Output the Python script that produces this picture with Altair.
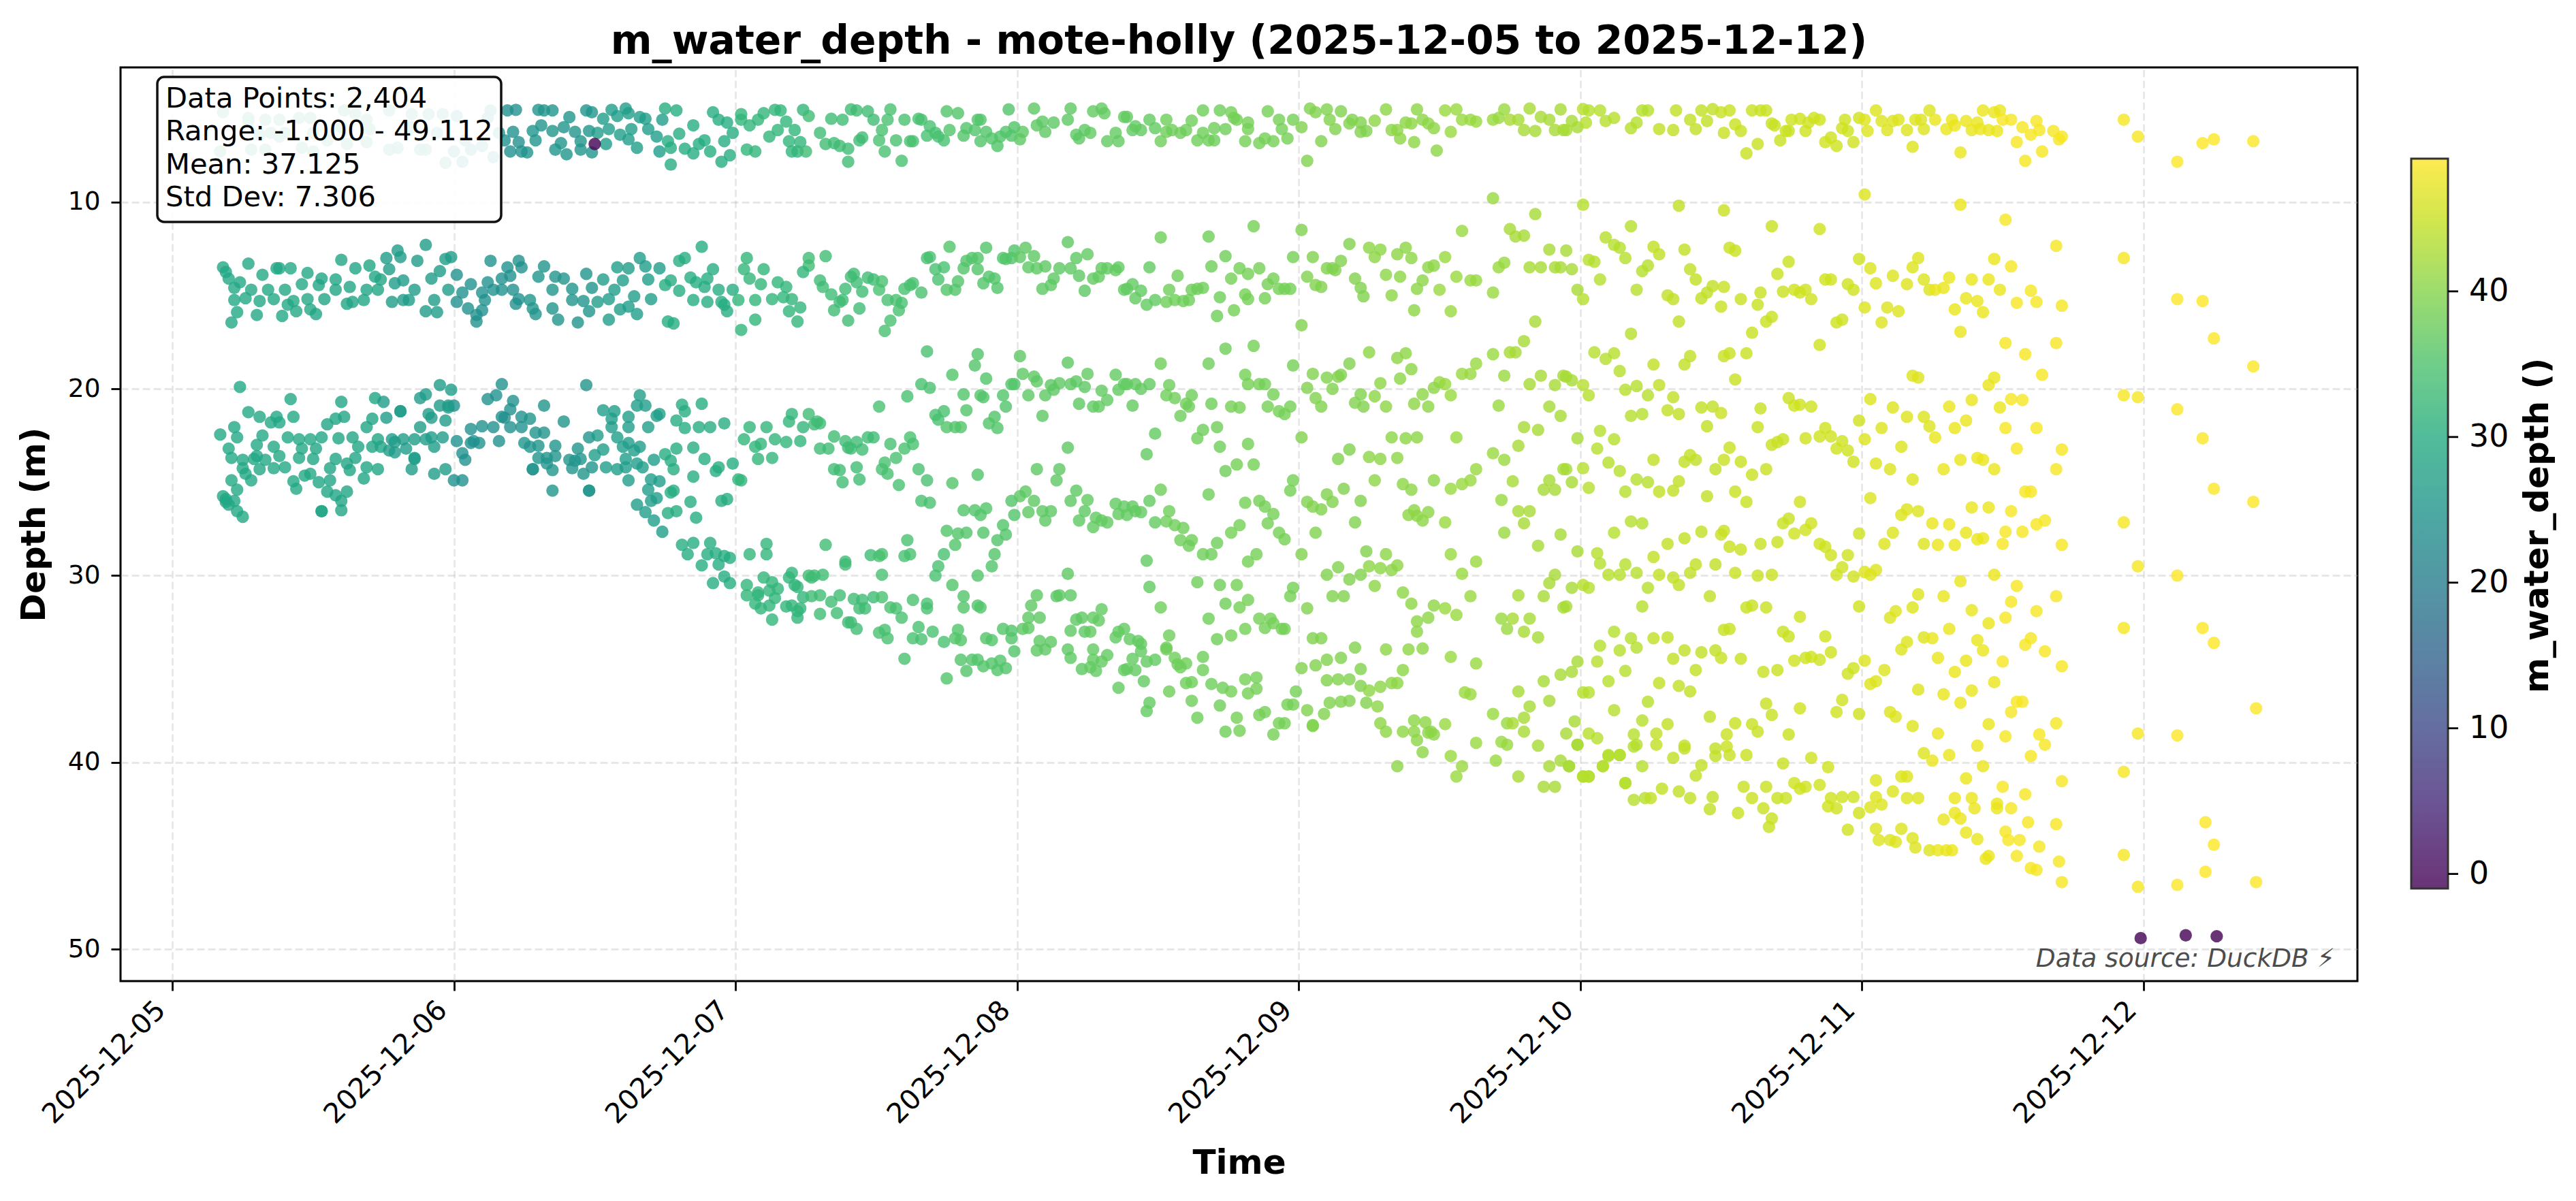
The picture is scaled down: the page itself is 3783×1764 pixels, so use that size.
import altair as alt
import numpy as np
import pandas as pd

TOP_BAND = [
(.18,5.2),(.27,5.5),(.33,5.6),(.38,5.6),(.45,5.5),(.49,5.5),(.61,5.1),(.65,5.3),(.69,5.6),(.77,5.1),(.85,5.3),(.91,5.3),(.96,5.3),(1.01,5.4),(1.13,5.1),(1.12,5.5),
(.17,7.3),(.28,7.2),(.33,7.2),(.35,6.3),(.40,6.3),(.46,7.1),(.50,7.3),(.55,6.7),(.62,6.9),(.69,6.8),(.77,7.2),(.80,7.1),(.88,7.2),(.90,7.2),(.94,6.3),(1.0,7.3),(1.06,7.2),(1.10,7.0),(1.14,7.6),(.97,7.9),(1.03,7.85),(1.04,6.7),(1.16,6.3),(.27,5.7),(.31,6.4),(.38,6.5),(.50,6.3),(.60,6.0),(.70,6.1),(.85,6.0),
(1.19,5.1),(1.22,5.07),(1.30,5.07),(1.32,5.1),(1.35,5.1),(1.41,5.46),(1.47,5.1),(1.49,5.2),(1.53,5.55),(1.56,5.07),(1.58,5.4),(1.61,5.0),(1.62,5.25),(1.66,5.46),(1.68,5.55),(1.74,5.6),(1.75,5.0),(1.79,5.1),(1.92,5.2),(1.94,5.6),(1.97,5.75),(2.02,5.6),(2.02,5.3),(2.10,5.25),(2.14,5.07),(2.16,5.1),(2.08,5.6),(2.18,5.7),(2.24,5.07),(2.26,5.4),
(1.18,6.7),(1.21,6.25),(1.20,7.3),(1.24,7.3),(1.26,7.35),(1.23,6.8),(1.29,6.7),(1.28,6.2),(1.31,5.9),(1.35,6.2),(1.39,6.0),(1.43,6.25),(1.48,6.2),(1.51,6.3),(1.36,7.2),(1.38,6.85),(1.40,7.45),(1.45,6.75),(1.45,7.2),(1.49,7.35),(1.54,6.9),(1.55,6.1),(1.59,6.4),(1.63,6.1),(1.62,6.65),(1.65,7.1),(1.69,6.1),(1.72,6.5),(1.73,7.3),(1.76,6.75),(1.77,7.1),(1.77,8.0),(1.80,6.35),(1.82,7.15),(1.85,7.4),(1.87,6.9),(1.89,6.7),(1.91,7.3),(1.85,5.9),(1.96,6.75),(1.95,7.85),(1.98,7.5),(1.99,6.3),(2.04,7.2),(2.07,7.3),(2.05,5.9),(2.12,6.5),(2.15,6.15),(2.19,6.75),(2.21,6.15),(2.20,7.3),(2.22,7.3),(2.23,6.8),(2.25,7.3),
(2.34,5.55),(2.38,5.6),(2.41,5.05),(2.43,5.1),(2.47,5.15),(2.49,5.6),(2.54,5.6),(2.55,5.05),(2.60,5.6),(2.65,5.55),(2.66,5.6),(2.75,5.15),(2.79,5.25),(2.86,5.6),(2.87,5.6),(2.97,5.05),(3.06,5.0),(3.09,5.7),(3.07,5.9),(3.13,5.75),(3.18,5.6),(3.19,5.0),(3.27,5.15),(3.30,5.0),(3.31,5.25),(3.38,5.45),(3.39,5.45),(3.47,5.6),(3.53,5.6),(3.62,5.65),(3.66,5.1),(3.72,5.1),(3.76,5.2),(3.77,5.5),(3.78,5.6),(3.89,5.15),(3.93,5.6),(3.98,5.6),(4.04,5.0),(4.06,5.2),(4.10,5.05),(4.15,5.15),(4.11,5.6),(4.19,5.6),(4.22,5.75),(4.27,5.65),(4.31,5.05),(4.38,5.75),(4.40,5.8),(4.42,5.05),(4.44,5.6),(4.46,5.8),(4.52,5.1),(4.56,5.05),(4.58,5.6),(4.61,5.6),(4.63,5.7),(4.69,5.6),(4.71,5.5),(4.73,5.05),(4.75,5.6),(4.78,5.6),(4.82,5.0),(4.86,5.45),(4.89,5.6),(4.93,5.05),
(2.30,6.3),(2.32,6.9),(2.35,6.85),(2.37,7.0),(2.40,7.15),(2.40,7.85),(2.44,6.7),(2.45,6.55),(2.51,6.7),(2.52,6.15),(2.53,7.3),(2.57,6.7),(2.59,7.8),(2.62,6.75),(2.63,6.75),(2.68,6.45),(2.69,5.95),(2.71,6.3),(2.72,6.5),(2.74,6.7),(2.76,6.15),(2.81,6.45),(2.82,6.05),(2.85,6.15),(2.87,6.75),(2.89,6.25),(2.91,6.6),(2.93,7.0),(2.94,6.5),(2.96,6.25),(2.98,6.45),(2.99,6.0),(3.01,6.65),(3.02,6.25),(3.10,6.25),(3.21,6.4),(3.22,6.6),(3.24,6.15),(3.26,6.3),(3.32,6.75),(3.35,6.3),(3.36,6.75),(3.41,6.15),(3.42,5.95),(3.44,6.15),(3.49,6.05),(3.51,6.75),(3.53,6.25),(3.55,6.15),(3.58,6.3),(3.60,6.15),(3.64,6.7),(3.66,6.3),(3.68,6.7),(3.70,6.7),(3.70,6.05),(3.74,6.1),(3.81,6.75),(3.82,5.75),(3.82,6.1),(3.86,6.85),(3.88,6.6),(3.91,6.75),(3.94,6.1),(3.96,6.6),(4.01,6.0),(4.03,7.8),(4.08,6.75),(4.13,6.1),(4.18,5.8),(4.22,6.25),(4.24,6.2),(4.33,6.15),(4.35,6.15),(4.36,6.6),(4.41,6.8),(4.48,6.05),(4.49,7.25),(4.54,6.25),(4.80,6.15),(4.84,6.2),(4.91,6.15),(4.94,6.15),
(4.97,5.67),(4.95,6.15),(4.99,6.0),(5.01,5.03),(5.03,5.1),(5.02,5.75),(5.07,5.1),(5.09,5.67),(5.12,5.5),(5.18,6.05),(5.20,5.75),(5.22,5.1),(5.24,5.1),(5.28,6.1),(5.33,6.15),(5.34,5.1),(5.39,5.6),(5.41,6.1),(5.43,5.1),(5.45,5.67),(5.47,5.03),(5.50,5.2),(5.53,5.1),(5.51,6.3),(5.55,5.85),(5.57,6.2),(5.59,7.4),(5.63,6.9),(5.61,5.1),(5.64,5.1),(5.66,5.1),(5.68,5.8),(5.69,5.9),(5.71,6.7),(5.73,6.2),(5.74,6.2),(5.75,5.6),(5.78,5.55),(5.80,6.2),(5.81,5.75),(5.83,5.5),(5.85,5.6),(5.87,6.8),(5.89,6.55),(5.91,7.0),(5.93,6.05),(5.94,5.6),(5.95,6.2),(5.97,6.8),(5.99,5.5),(6.01,5.6),(6.02,6.2),(6.05,5.1),(6.07,5.67),(6.09,6.15),(6.11,5.67),(6.13,5.6),(6.16,6.15),(6.18,7.05),(6.19,5.6),(6.21,5.6),(6.22,6.1),(6.24,5.1),(6.26,5.6),(6.30,6.1),(6.32,5.6),(6.33,5.9),(6.35,7.35),(6.37,5.67),(6.39,6.15),(6.41,5.75),(6.42,6.1),(6.43,5.1),(6.45,6.15),(6.47,5.2),(6.48,6.2),(6.49,5.1),(6.50,5.6),(6.53,5.6),(6.55,6.8),(6.57,6.0),(6.58,7.8),(6.60,6.4),(6.62,5.67),(6.63,6.15),(6.64,7.3),(6.68,6.2),(6.70,6.65),(6.71,6.5),(6.93,5.6),(6.98,6.5),(7.12,7.85),(7.21,6.85),(7.25,6.65),(7.39,6.75),
]
MID_BAND = [
(.18,13.5),(.19,13.75),(.20,14.1),(.22,14.6),(.24,14.3),(.27,13.3),(.32,13.9),(.37,13.55),(.38,13.55),(.42,13.55),(.48,13.8),(.60,13.1),(.65,13.55),(.70,13.4),(.72,14.0),(.76,13.0),(.77,13.6),(.80,12.6),(.81,12.95),(.87,13.15),(.90,12.3),(.97,13.05),(.99,12.95),(1.01,13.9),(1.13,13.15),(1.23,13.15),(1.24,13.5),(1.19,13.5),(1.32,13.45),(1.47,13.85),(1.58,13.5),(1.62,13.55),(1.66,13.0),(1.68,13.45),(1.73,13.55),(1.80,13.15),(1.82,13.0),(1.88,12.4),(1.92,13.6),(2.04,13.0),(2.03,13.6),(2.10,13.6),(2.26,13.0),(2.26,13.4),(2.24,13.75),
(.26,15.15),(.22,15.25),(.23,15.9),(.21,16.45),(.30,16.05),(.28,14.7),(.31,15.3),(.34,14.7),(.36,15.2),(.40,14.7),(.41,15.5),(.39,16.1),(.43,15.3),(.44,15.85),(.46,14.4),(.48,15.2),(.49,15.75),(.51,16.0),(.52,14.45),(.54,15.2),(.53,14.1),(.58,14.15),(.58,14.7),(.63,14.55),(.62,15.45),(.64,15.35),(.68,15.25),(.69,14.7),(.73,14.7),(.74,14.15),(.78,15.35),(.79,14.35),(.82,15.25),(.82,14.2),(.84,15.25),(.86,14.7),(.90,15.85),(.92,14.1),(.93,15.25),(.94,15.9),(.95,13.7),(.98,14.7),(1.01,15.35),(1.03,14.85),(1.05,15.7),(1.06,14.4),(1.08,16.4),(1.10,15.8),(1.08,16.05),(1.11,15.25),(1.12,14.3),(1.10,14.85),(1.14,14.7),(1.17,14.1),(1.17,14.7),(1.21,14.7),(1.20,13.95),(1.22,15.45),(1.23,15.2),(1.27,15.25),(1.28,15.7),(1.29,16.0),(1.30,14.0),(1.35,15.7),(1.35,14.7),(1.37,16.3),(1.36,14.0),(1.39,14.1),(1.42,15.25),(1.42,14.65),(1.44,16.45),(1.46,15.3),(1.48,15.85),(1.49,14.6),(1.51,15.35),(1.53,14.15),(1.55,16.3),(1.55,15.2),(1.57,14.7),(1.59,15.75),(1.60,14.2),(1.62,15.6),(1.64,15.05),(1.65,16.0),(1.69,14.15),(1.70,15.2),(1.75,14.45),(1.77,14.2),(1.76,16.4),(1.78,16.5),(1.80,14.75),(1.84,14.05),(1.85,15.25),(1.86,14.3),(1.89,14.55),(1.90,14.1),(1.90,15.35),(1.94,14.7),(1.95,15.35),(1.96,15.5),(1.97,15.85),(1.99,14.7),(2.01,15.25),(2.02,16.85),(2.07,16.3),(2.05,14.1),(2.07,15.25),(2.09,14.4),(2.13,15.2),(2.15,14.3),(2.17,15.1),(2.18,14.55),(2.20,15.2),(2.23,15.65),(2.19,15.85),(2.22,16.4),
(2.32,12.9),(2.30,14.2),(2.31,14.55),(2.34,14.95),(2.37,15.35),(2.38,15.25),(2.35,15.8),(2.40,16.35),(2.39,14.65),(2.41,14.0),(2.42,13.85),(2.43,14.3),(2.45,14.8),(2.47,14.05),(2.49,14.15),(2.52,14.25),(2.51,14.7),(2.44,15.7),(2.54,15.25),(2.57,15.25),(2.59,15.4),(2.58,15.8),(2.55,16.35),(2.53,16.9),(2.60,14.65),(2.62,14.45),(2.63,14.35),(2.66,14.85),(2.68,13.0),(2.69,12.95),(2.71,13.6),(2.74,13.5),(2.72,14.15),(2.75,14.7),(2.78,14.7),(2.79,14.25),(2.76,12.4),(2.81,13.55),(2.82,13.15),(2.84,13.0),(2.86,13.0),(2.86,13.6),(2.88,14.35),(2.89,12.45),(2.90,14.0),(2.92,14.1),(2.93,14.6),(2.95,13.0),(2.96,13.05),(2.98,13.0),(2.99,12.6),(3.01,12.95),(3.03,12.45),(3.06,12.9),(3.04,13.5),(3.07,13.55),(3.10,13.45),(3.09,14.65),(3.12,14.45),(3.13,14.1),(3.15,13.55),(3.18,12.15),(3.19,13.55),(3.21,13.0),(3.22,13.95),(3.24,14.75),(3.25,12.8),(3.27,14.1),(3.29,14.0),(3.30,13.55),(3.32,13.55),(3.35,13.65),(3.36,13.5),(3.38,14.7),(3.39,14.65),(3.41,14.4),(3.42,15.15),(3.44,14.75),(3.46,15.5),(3.47,13.5),(3.49,15.25),(3.51,11.9),(3.53,15.35),(3.54,14.7),(3.56,15.25),(3.57,13.95),(3.59,15.3),(3.61,15.25),(3.62,14.7),(3.64,14.65),(3.66,14.6),(3.68,11.85),(3.69,13.45),(3.72,15.1),(3.71,16.1),(3.74,12.9),(3.76,14.1),(3.77,15.8),(3.79,13.55),(3.81,14.95),(3.82,13.85),(3.82,15.2),(3.84,11.3),(3.86,13.55),(3.88,15.15),(3.89,14.4),(3.91,14.1),(3.93,14.65),(3.95,14.65),(3.97,14.65),(3.98,12.95),(4.01,11.5),(4.01,16.6),(4.03,14.0),(4.05,12.95),(4.06,14.45),(4.08,14.55),(4.10,13.55),(4.12,13.55),(4.13,13.65),(4.15,13.15),(4.18,12.25),(4.20,14.1),(4.22,14.6),(4.23,15.05),(4.25,12.45),(4.27,12.95),(4.29,12.55),(4.31,13.9),(4.33,15.0),(4.35,12.8),(4.36,14.0),(4.38,12.45),(4.40,13.0),(4.42,14.65),(4.41,15.8),(4.44,14.2),(4.46,13.5),(4.48,13.4),(4.50,14.7),(4.52,12.95),(4.54,15.85),(4.56,14.0),(4.58,11.55),(4.61,14.2),(4.63,14.2),(4.69,9.8),(4.69,14.85),(4.71,13.5),(4.73,13.25),(4.75,11.45),(4.77,11.85),(4.80,11.8),(4.82,13.5),(4.84,10.65),(4.86,13.5),(4.89,12.55),(4.91,13.5),(4.93,13.5),(4.84,16.4),
(5.01,10.15),(5.35,10.2),(5.51,10.45),(6.01,9.6),(6.35,10.15),(6.51,10.95),(5.18,11.3),(5.09,11.9),(5.12,12.3),(5.14,12.45),(5.26,12.4),(5.28,12.8),(5.37,12.55),(5.53,12.45),(5.55,12.6),(5.68,11.3),(5.85,11.45),(4.95,12.6),(5.03,13.1),(5.05,13.2),(5.16,13.0),(5.24,13.4),(5.22,13.7),(4.97,13.6),(5.07,14.15),(5.39,13.6),(5.41,14.15),(5.70,13.85),(5.74,13.2),(5.99,13.05),(6.03,13.55),(6.18,13.5),(6.20,13.0),(6.47,13.05),(6.53,13.45),(6.69,12.35),(6.93,13.0),
(4.99,14.7),(5.01,15.2),(5.20,14.7),(5.31,15.0),(5.33,15.2),(5.43,15.15),(5.45,14.85),(5.47,14.5),(5.51,14.55),(5.57,15.2),(5.64,14.85),(5.72,14.8),(5.76,14.7),(5.78,14.85),(5.80,14.7),(5.82,15.2),(5.87,14.15),(5.89,14.15),(5.95,14.4),(5.97,14.7),(6.05,14.35),(6.11,13.95),(6.16,14.4),(6.22,14.15),(6.24,14.7),(6.26,14.7),(6.29,14.6),(6.31,14.05),(6.39,14.15),(6.45,14.15),(6.49,14.7),(6.60,14.75),(6.55,15.4),(6.62,15.35),(6.71,15.55),
(5.50,15.6),(5.35,16.4),(5.63,15.5),(5.66,16.4),(5.68,16.15),(5.61,17.0),(5.18,17.05),(5.91,16.45),(5.93,16.3),(6.01,15.65),(6.07,16.45),(6.09,15.65),(6.13,15.85),(6.33,15.75),(6.37,15.15),(6.41,15.3),(6.43,15.9),(6.35,16.95),(6.51,17.55),(6.69,17.55),(6.58,18.15),(5.85,17.65),
(5.05,18.05),(5.09,18.4),(5.12,18.1),(5.14,19.05),(5.26,18.7),(5.37,18.7),(5.39,18.25),(5.51,18.25),(5.53,18.1),(5.59,18.1),(5.55,19.5),(6.18,19.3),(6.20,19.4),(6.47,19.4),(6.45,19.8),(6.64,19.25),(7.39,18.8),(7.25,17.3),(7.12,15.2),(7.21,15.3),(4.95,19.35),(4.97,19.55),(5.01,19.8),(5.03,20.35),(5.16,20.05),(5.20,19.85),(5.28,19.8),(5.24,20.35),(5.33,20.45),
]
LOWER_LEFT = [
(.24,19.9),(.42,20.55),(.60,20.7),(.72,20.5),(.75,20.7),(.88,20.5),(.90,20.3),(.95,19.8),(.99,20.05),(1.12,20.55),(1.15,20.35),(1.17,19.75),(1.21,20.65),(1.32,20.9),(1.47,19.8),(1.66,20.35),(1.65,20.9),(1.68,20.9),(1.88,20.8),(1.81,20.85),(1.53,21.15),(1.57,21.2),
(.27,21.25),(.31,21.5),(.37,21.5),(.43,21.5),(.61,21.5),(.81,21.2),(.71,21.6),(.76,21.55),(.55,21.9),(.58,21.6),(.91,21.35),(.95,20.9),(.98,21.0),(1.0,20.9),(.97,21.7),(.92,21.55),(1.20,21.1),(1.18,21.55),(1.17,21.5),(1.24,21.5),(1.27,21.6),(1.39,21.75),(1.56,21.6),(1.62,21.5),(1.72,21.45),(1.73,21.35),(1.79,21.7),(1.82,21.2),
(.17,22.45),(.22,22.05),(.32,22.5),(.35,21.8),(.38,21.8),(.23,22.6),(.41,22.6),(.45,22.7),(.49,22.7),(.53,22.6),(.59,22.65),(.64,22.6),(.69,22.05),(.73,22.7),(.78,22.7),(.82,22.7),(.86,22.7),(.88,22.05),(.92,22.6),(.96,22.6),(1.01,22.8),(1.06,22.15),(1.07,22.8),(1.10,22.0),(1.14,22.05),(1.16,22.8),(1.20,22.05),(1.24,22.05),(1.29,22.35),(1.32,22.35),(1.48,22.6),(1.51,22.5),(1.56,22.05),(1.62,22.05),(1.69,22.05),(1.82,22.1),(1.87,22.05),(1.91,22.05),(1.96,21.85),(2.05,22.05),(2.11,22.05),(2.20,21.35),(2.26,21.35),(2.19,21.75),(2.24,22.05),(2.28,21.9),(2.29,21.75),
(.20,23.2),(.30,23.0),(.36,23.1),(.46,23.2),(.51,23.2),(.66,23.1),(.71,23.1),(.74,23.1),(.79,22.85),(.93,23.1),(1.30,23.05),(1.36,23.05),(1.44,23.2),(1.53,23.25),(1.60,23.1),(1.66,23.1),(1.79,23.2),(1.85,23.15),(2.03,22.7),(2.07,23.1),(2.09,22.95),(2.14,22.7),(2.18,22.85),(2.23,22.8),
(.21,23.7),(.25,23.8),(.29,23.75),(.38,23.6),(.45,23.7),(.50,23.75),(.58,23.75),(.65,23.7),(.77,23.3),(.86,23.75),(1.03,23.45),(1.04,23.8),(1.33,23.7),(1.41,23.8),(1.45,23.75),(1.50,23.55),(1.61,23.75),(1.65,24.0),(1.71,23.8),(1.75,23.5),(1.89,23.75),(2.08,23.75),(2.13,23.7),
(.25,24.25),(.26,24.55),(.31,24.3),(.36,24.25),(.40,24.2),(.49,24.55),(.56,24.25),(.63,24.35),(.69,24.2),(.73,24.3),(.85,24.3),(.93,24.55),(.97,24.3),(1.28,24.3),(1.35,24.35),(1.42,24.25),(1.46,24.55),(1.49,24.2),(1.54,24.2),(1.58,24.3),(1.61,24.2),(1.67,24.2),(1.77,23.85),(1.78,24.3),(1.94,24.2),(1.93,24.4),(1.99,24.0),
(.21,24.9),(.23,25.4),(.28,24.9),(.43,24.95),(.47,24.65),(.52,25.0),(.56,24.9),(.68,24.8),(1.0,24.9),(1.03,24.9),(1.62,24.9),(1.70,24.85),(1.73,24.95),(1.85,24.7),(2.01,24.85),(2.02,24.9),
(.44,25.35),(.55,25.5),(.62,25.5),(1.35,25.45),(1.48,25.45),(1.69,25.4),(1.77,25.55),(1.78,25.45),
(.18,25.75),(.19,26.05),(.22,26.0),(.20,26.2),(.58,25.7),(.60,26.0),(1.65,26.2),(1.70,26.0),(1.72,25.85),(1.84,26.05),(1.95,26.0),(1.97,25.9),
(.23,26.55),(.25,26.85),(.53,26.55),(.60,26.5),(1.68,26.6),(1.71,27.05),(1.76,26.65),(1.79,26.55),(1.86,26.9),(1.74,27.65),
(2.11,28.3),(1.81,28.35),(1.85,28.25),(1.91,28.25),(1.83,28.85),(1.90,28.85),(1.93,28.8),(1.96,28.95),(2.05,28.85),(2.11,28.85),(1.88,29.45),(1.98,29.05),
(1.94,29.4),(1.96,30.05),(1.92,30.4),(1.98,30.4),(2.04,30.5),(2.04,31.05),(2.08,30.9),(2.08,31.05),(2.07,31.5),(2.09,31.75),(2.12,31.6),(2.13,32.35),(2.10,30.1),(2.13,30.35),(2.15,30.7),(2.14,31.2),(2.18,31.65),(2.19,30.1),(2.20,29.85),(2.21,30.5),(2.26,30.0),(2.28,30.0),(2.27,30.1),(2.24,31.15),(2.27,31.1),(2.23,31.75),(2.22,31.9),(2.22,32.25),
]
OVERLAPS = [(.53,26.55),(.86,23.7),(.81,21.2),(.98,20.9),(1.28,24.3),(1.48,25.45),(1.43,23.85),(1.30,23.7),(1.33,24.0),(1.36,23.6),(1.25,22.9),(1.27,23.1),(.30,23.6),(.33,23.8),(.19,25.9),(.62,24.0),(.79,23.4),(.83,23.2),(.90,22.7),(1.06,22.9),(1.09,22.9),(1.58,22.6),(1.62,22.9),(1.64,23.3),(2.22,30.6),(2.20,31.6),(2.12,30.8)]
MIDDLE_LOWER = [
(2.68,18.0),(2.86,18.15),(3.01,18.25),(3.18,18.6),(3.51,18.65),(3.68,18.65),(3.74,17.85),(3.84,17.7),(3.98,18.75),(4.25,18.05),(4.35,18.35),(4.38,18.1),(4.63,18.65),(4.69,18.15),(4.75,18.05),(4.77,18.05),(4.80,17.45),
(2.85,18.75),(2.77,19.25),(2.89,19.45),(3.02,19.2),(3.06,19.35),(3.07,19.6),(3.25,19.2),(3.35,19.25),(3.81,19.25),(4.05,19.2),(4.18,18.65),(4.15,19.25),(4.10,19.4),(4.14,19.35),(4.40,18.95),(4.36,19.45),(4.58,19.2),(4.61,19.2),(4.73,19.3),(4.86,19.3),(4.94,19.3),
(2.66,19.75),(2.69,19.95),(2.98,19.75),(2.99,19.75),(3.12,19.8),(3.15,19.7),(3.19,19.75),(3.21,19.6),(3.24,19.9),(3.38,19.75),(3.39,19.75),(3.42,19.75),(3.44,20.0),(3.47,19.75),(3.54,19.8),(3.82,19.75),(3.86,19.75),(3.88,19.75),(4.03,19.95),(4.12,20.0),(4.29,19.7),(4.50,19.65),(4.52,19.75),(4.48,19.95),(4.82,19.75),(4.91,19.8),
(2.61,20.4),(2.81,20.3),(2.87,20.35),(2.88,20.45),(2.95,20.35),(3.04,20.35),(3.10,20.35),(3.13,20.05),(3.30,20.1),(3.36,20.05),(3.53,20.35),(3.56,20.5),(3.62,20.35),(3.91,20.3),(4.22,20.3),(4.27,20.4),(4.44,20.3),(4.54,20.35),(4.06,20.5),
(2.51,20.95),(2.96,20.95),(3.22,20.8),(3.27,20.95),(3.29,20.95),(3.32,20.6),(3.41,20.9),(3.60,20.8),(3.61,20.95),(3.69,20.8),(3.76,20.95),(3.79,21.0),(3.89,20.95),(3.97,20.95),(4.08,20.95),(4.20,20.75),(4.23,20.95),(4.31,20.95),(4.41,20.8),(4.46,20.95),(4.71,20.9),(4.89,20.95),
(2.82,21.15),(2.71,21.4),(2.74,21.2),(2.72,21.65),(2.92,21.5),(2.90,21.85),(3.09,21.45),(3.58,21.45),(3.93,21.2),(3.95,21.35),(4.93,21.45),
(2.75,22.05),(2.78,22.05),(2.80,22.05),(2.93,22.1),(3.66,22.2),(3.71,22.05),(4.80,22.05),(4.85,22.2),
(2.30,21.85),(2.35,22.55),(2.39,22.8),(2.43,22.85),(2.47,22.6),(2.49,22.6),(2.62,22.6),(2.30,23.2),(2.33,23.2),(2.40,23.15),(2.41,23.2),(2.45,23.25),(2.55,22.95),(2.60,23.2),(2.63,22.95),(3.49,22.4),(3.64,22.65),(3.72,23.1),(3.82,22.95),(4.01,22.6),(4.33,22.6),(4.38,22.65),(4.42,22.6),(4.56,22.6),(3.18,23.15),(4.18,23.25),(4.78,23.05),(4.69,23.45),(4.14,23.75),
(2.57,23.7),(2.53,23.95),(2.52,24.3),(2.54,24.55),(2.35,24.3),(2.37,24.35),(2.43,24.2),(2.38,25.0),(2.44,24.85),(2.65,24.3),(2.68,24.9),(2.58,25.15),(2.77,25.05),(2.86,24.6),(3.46,23.5),(3.74,24.4),(3.78,24.05),(3.84,24.05),(4.25,23.65),(4.29,23.75),(4.35,23.7),(4.73,23.8),(4.63,24.3),(4.94,24.3),(3.07,24.3),(3.15,24.3),(3.14,24.9),(3.98,24.9),(4.27,24.9),(4.37,25.1),(4.48,24.9),(4.61,24.9),(4.58,25.1),(4.54,25.35),(4.76,24.95),(4.89,24.9),(4.87,25.4),(4.91,25.4),(3.97,25.45),(4.16,25.35),(4.40,25.4),(3.21,25.45),(3.51,25.4),(3.03,25.5),
(2.66,26.0),(2.69,26.1),(2.98,26.0),(3.01,25.75),(3.06,26.0),(3.19,26.0),(3.25,25.95),(3.35,26.15),(3.38,26.3),(3.41,26.3),(3.47,26.0),(3.68,25.65),(3.81,26.1),(3.86,26.0),(3.88,26.3),(4.03,26.05),(4.05,26.3),(4.10,25.65),(4.12,26.05),(4.08,26.45),(4.22,26.0),(4.72,25.95),
(2.81,26.5),(2.85,26.5),(2.89,26.4),(2.87,26.75),(2.99,26.75),(3.04,26.6),(3.09,26.55),(3.12,26.55),(3.24,26.55),(3.36,26.7),(3.39,26.75),(3.42,26.55),(3.44,26.6),(3.54,26.55),(3.91,26.7),(4.39,26.75),(4.41,26.5),(4.42,26.8),(4.46,26.6),(4.78,26.55),(4.82,26.55),
(2.95,27.3),(3.10,27.05),(3.22,27.05),(3.28,26.9),(3.30,27.05),(3.32,27.15),(3.27,27.4),(3.49,27.15),(3.53,27.1),(3.56,27.3),(3.79,27.3),(3.89,27.2),(4.20,27.15),(4.44,27.05),(4.52,27.15),(4.80,27.2),
(2.75,27.6),(2.79,27.75),(2.82,27.7),(2.88,27.7),(2.96,27.8),(2.93,28.1),(2.61,28.1),(3.59,27.45),(3.76,27.7),(3.93,27.7),(3.95,28.05),(4.06,27.7),(4.73,27.7),(4.93,27.8),(3.58,28.1),(3.62,28.1),(3.71,28.25),(2.78,28.35),
(2.32,28.35),(2.48,28.9),(2.51,28.95),(2.52,28.85),(2.60,28.95),(2.62,28.85),(2.39,29.25),(2.39,29.4),(2.74,28.85),(2.92,28.85),(3.61,28.4),(3.66,28.85),(3.69,28.85),(3.85,28.85),(4.01,28.85),(4.24,28.7),(4.31,28.85),(4.54,28.85),(4.85,28.4),
(3.82,29.25),(3.46,29.2),(2.72,29.5),(2.91,29.5),(4.14,29.55),(4.25,29.5),(4.29,29.6),(4.33,29.7),(4.35,29.45),(4.63,29.25),
(2.31,29.95),(2.52,29.95),(2.71,30.0),(2.86,30.0),(3.18,29.9),(4.10,29.95),(4.22,29.95),(4.18,30.2),(4.58,29.9),(4.91,29.95),(4.89,30.4),(3.64,30.35),(3.72,30.5),(3.78,30.5),(2.77,30.5),(3.47,30.6),(3.98,30.65),(3.97,31.1),(4.27,30.55),(4.37,30.9),
(2.30,31.05),(2.37,31.05),(2.34,31.4),(2.42,31.25),(2.45,31.3),(2.49,31.15),(2.52,31.15),(2.63,31.3),(2.68,31.5),(2.68,31.75),(2.81,31.1),(2.81,31.7),(2.86,31.6),(2.87,31.7),(3.07,31.05),(3.14,31.1),(3.15,31.05),(3.19,31.05),(4.12,31.1),(4.16,31.1),(4.61,31.1),(4.78,31.05),(4.87,31.1),(4.94,31.7),(3.74,31.5),(3.79,31.7),(3.82,31.3),(4.40,31.5),(4.48,31.6),(4.52,31.75),(4.56,32.1),(4.03,31.75),(3.51,31.7),
(2.30,32.05),(2.36,32.0),(2.44,31.75),(2.46,31.75),(2.55,31.7),(2.57,31.75),(2.59,32.25),(3.05,31.6),(3.04,32.25),(3.08,32.25),(3.21,32.35),(3.23,32.25),(3.27,32.25),(3.29,32.4),(3.30,31.8),(3.68,32.3),(3.86,32.3),(3.90,32.3),(4.42,32.45),(4.46,32.25),(4.72,32.3),(4.76,32.3),(4.82,32.3),(3.91,32.55),(3.94,32.85),(3.88,32.8),(3.95,32.85),
(2.40,32.5),(2.41,32.5),(2.43,32.85),(2.51,33.05),(2.53,32.9),(2.54,33.35),(2.65,32.75),(2.63,33.35),(2.66,33.4),(2.70,33.0),(2.74,33.55),(2.79,32.9),(2.78,33.35),(2.80,33.45),(2.89,33.35),(2.91,33.45),(2.95,32.85),(2.98,32.95),(2.98,33.35),(3.02,32.85),(3.04,32.8),(3.19,32.95),(3.24,33.0),(3.26,33.0),(3.38,32.85),(3.36,33.0),(3.35,33.3),(3.40,33.4),(3.43,33.5),(3.44,33.65),(3.54,33.2),(3.71,33.4),(3.76,33.2),(3.81,32.85),(4.05,33.35),(4.08,33.35),(4.42,33.0),(4.74,32.85),(4.80,33.0),(4.85,33.3),
(3.08,33.5),(3.12,33.55),(3.07,34.0),(3.10,33.95),(2.99,34.05),(3.18,33.95),(3.27,33.95),(3.32,34.25),(3.44,34.05),(3.53,33.85),(3.53,33.95),(4.20,33.85),(4.31,33.95),(4.39,33.95),(4.44,33.9),(4.54,34.35),(4.63,34.7),
(2.60,34.45),(2.80,34.5),(2.84,34.5),(2.86,34.5),(2.91,34.7),(2.93,35.05),(2.94,34.55),(2.96,34.95),(2.88,34.85),(2.82,35.1),(3.19,34.4),(3.27,34.5),(3.30,34.6),(3.41,34.45),(3.23,35.0),(3.26,34.9),(3.28,35.1),(3.38,35.05),(3.39,35.0),(3.42,35.05),(3.46,34.6),(3.49,34.5),(3.56,34.4),(3.57,34.75),(3.60,34.7),(3.58,34.9),(3.66,34.35),(3.66,35.05),(4.01,34.95),(4.06,34.8),(4.10,34.5),(4.15,34.4),(4.22,35.0),(4.37,35.05),(2.75,35.5),(3.45,35.65),(3.36,36.0),(3.60,35.75),(3.62,35.7),(3.69,35.8),(3.73,36.0),(3.76,36.2),(3.54,36.2),(3.81,35.55),(3.85,35.45),(3.85,36.05),(3.82,36.3),(4.10,35.6),(4.14,35.55),(4.18,35.55),(4.22,35.9),(4.25,36.15),(4.29,35.95),(4.33,35.75),(4.35,35.75),(3.99,36.2),(4.59,36.25),(4.61,36.35),(4.78,36.2),(4.87,35.65),(4.93,35.3),
(3.47,36.8),(3.46,37.25),(3.62,36.7),(3.72,36.95),(3.64,37.6),(3.78,37.6),(3.86,37.45),(3.88,37.3),(3.96,36.9),(3.98,36.9),(4.03,37.2),(4.09,37.4),(4.11,36.8),(4.15,36.75),(4.18,36.7),(4.24,36.8),(4.28,37.0),(4.29,37.9),(4.05,38.0),(4.05,38.05),(3.93,37.9),(3.95,37.9),(4.41,37.75),(4.45,37.85),(4.52,37.95),(4.69,37.4),(4.74,37.9),(4.76,37.9),(4.80,37.6),(4.82,37.0),(4.89,36.7),(3.74,38.35),(3.79,38.3),(3.91,38.5),(4.31,38.35),(4.37,38.35),(4.41,38.35),(4.47,38.35),(4.80,38.35),
(4.35,40.2),(4.44,39.45),(4.54,39.65),(4.58,40.2),(4.56,40.75),(4.63,38.95),(4.70,39.9),(4.78,40.75),(4.89,40.2),(4.93,39.9),(4.96,40.2),(4.87,41.3),(4.91,41.3),(5.01,40.75),(5.03,40.75),(5.08,40.2),(5.10,39.65),(5.14,39.6),(5.16,41.1),(5.19,42.0),(4.99,39.05),(4.85,39.1),(4.74,39.05),(4.72,38.9),(4.42,38.8),(4.46,38.4),(4.48,38.5),
]
RIGHT_LOWER = [
(5.74,20.5),(5.76,20.9),(5.78,20.85),(5.82,20.95),(5.64,21.05),(5.43,21.0),(5.47,20.95),(5.50,21.3),(5.31,21.15),(5.35,21.35),(5.22,21.35),(5.18,21.45),(6.03,20.55),(6.11,21.0),(6.16,21.5),(6.22,21.5),(6.31,20.95),(6.39,20.6),(6.37,21.7),(6.49,21.0),(6.53,20.55),(6.57,20.6),(5.99,21.7),(6.93,20.35),(6.98,20.45),(7.12,21.1),
(5.45,22.0),(5.63,22.05),(5.87,22.1),(6.07,22.1),(6.24,22.0),(6.33,22.1),(6.51,22.1),(6.62,22.1),(5.07,22.25),(4.99,22.65),(5.12,22.7),(5.68,23.0),(5.70,22.85),(5.72,22.7),(5.80,22.65),(5.85,22.55),(5.89,22.55),(5.93,22.8),(6.01,22.7),(6.26,22.6),(7.21,22.65),(5.06,23.2),(5.53,23.15),(5.91,23.2),(5.95,23.3),(6.14,23.1),(6.55,23.2),(6.71,23.25),
(5.26,23.8),(5.39,23.55),(5.37,23.9),(5.41,23.8),(5.51,23.8),(5.57,23.9),(5.10,23.95),(5.97,23.9),(6.05,24.0),(6.35,23.8),(6.41,23.7),(6.43,23.8),(5.01,24.25),(4.95,24.3),(5.14,24.4),(5.48,24.3),(5.66,24.3),(5.61,24.6),(6.10,24.3),(6.29,24.3),(6.47,24.3),(6.69,24.3),
(4.97,25.0),(5.03,25.3),(5.20,24.85),(5.24,25.0),(5.16,25.5),(5.28,25.5),(5.33,25.45),(5.35,24.95),(5.45,25.75),(5.55,25.5),(5.59,26.05),(6.18,24.85),(6.58,25.5),(6.60,25.5),(7.25,25.35),(6.03,25.85),(7.39,26.05),(5.78,26.05),
(6.14,26.75),(6.16,26.45),(6.20,26.55),(6.39,26.35),(6.45,26.35),(6.53,26.55),(5.74,26.95),(5.72,27.2),(5.82,27.2),(5.18,27.1),(5.22,27.2),(6.25,27.2),(6.31,27.25),(6.65,27.05),(6.62,27.25),(6.93,27.15),
(5.12,27.7),(5.43,27.65),(5.51,27.6),(5.50,27.8),(5.76,27.75),(5.80,27.55),(5.99,27.75),(6.11,27.7),(6.37,27.7),(6.41,28.05),(6.43,28.0),(6.51,27.65),(6.57,27.65),(5.37,28.0),(5.31,28.3),(5.53,28.45),(5.57,28.6),(5.64,28.3),(5.70,28.2),(5.85,28.3),(5.87,28.45),(6.08,28.3),(6.22,28.3),(6.27,28.35),(6.33,28.35),(6.50,28.3),(6.71,28.35),
(4.99,28.7),(5.06,28.8),(5.26,29.0),(5.89,28.9),(5.95,28.9),(5.07,29.35),(5.16,29.4),(5.41,29.4),(5.48,29.4),(5.93,29.55),(6.05,29.7),(6.98,29.5),
(5.10,29.95),(5.14,29.95),(5.20,29.85),(5.28,29.95),(5.33,30.1),(5.39,29.85),(5.55,29.85),(5.63,30.0),(5.68,29.95),(5.91,29.95),(5.97,30.05),(6.01,29.8),(6.03,29.95),(6.47,29.95),(7.12,30.0),(6.35,30.3),
(4.97,30.65),(5.01,30.5),(5.03,30.65),(5.24,30.65),(5.35,30.5),(6.55,30.55),(5.46,31.1),(6.20,31.0),(6.29,31.1),(6.69,31.1),(4.95,31.65),(5.22,31.65),(5.59,31.7),(5.61,31.6),(5.66,31.7),(5.99,31.65),(6.18,31.7),(6.39,31.85),(6.53,31.4),(6.62,31.9),(6.12,31.9),(6.10,32.25),(5.78,32.2),(6.51,32.25),(6.45,32.55),
(5.12,33.0),(5.51,32.9),(5.53,32.85),(5.72,33.0),(6.31,32.85),(6.93,32.8),(7.21,32.8),(7.25,33.6),(5.18,33.35),(5.26,33.35),(5.31,33.3),(5.74,33.25),(5.87,33.25),(6.22,33.3),(6.25,33.35),(6.60,33.35),(6.41,33.45),(5.07,33.75),(5.20,33.85),(5.14,34.0),(5.37,34.0),(5.43,34.1),(5.48,34.0),(5.50,34.4),(6.14,33.95),(6.16,33.55),(6.43,34.0),(6.58,33.7),(6.65,34.05),(5.33,34.45),(5.57,34.45),(5.76,34.55),(5.80,34.4),(5.82,34.35),(5.85,34.5),(5.89,34.1),(6.27,34.4),(6.37,34.55),(6.01,34.55),(6.50,34.6),(6.71,34.85),(4.99,34.6),(5.06,34.6),(5.16,35.1),(5.41,35.05),(5.65,35.15),(5.70,35.05),(5.97,34.95),(6.08,35.05),(6.33,35.15),(4.97,35.15),(5.95,35.25),
(5.10,35.65),(5.28,35.75),(5.35,35.9),(5.39,36.2),(6.05,35.65),(6.03,35.8),(6.47,35.7),(6.20,36.1),(6.39,36.15),(6.29,36.35),(5.01,36.25),(5.03,36.25),(5.24,36.75),(5.66,36.85),(5.93,36.65),(6.35,36.8),(6.55,36.75),(6.57,36.75),(7.40,37.1),
(5.12,37.2),(5.68,37.45),(5.78,37.1),(5.91,37.3),(5.99,37.4),(6.10,37.3),(6.12,37.55),(6.53,37.3),(5.46,37.55),(5.22,37.75),(5.31,37.95),(5.55,37.9),(5.61,37.95),(4.98,37.8),(5.63,38.35),(6.18,38.05),(6.45,37.95),(6.69,37.9),(4.95,38.45),(5.03,38.45),(5.06,38.7),(5.19,38.5),(5.27,38.45),(5.52,38.5),(5.74,38.5),(6.27,38.45),(6.51,38.6),(6.63,38.5),(6.98,38.45),(7.12,38.55),(6.65,39.05),(6.41,39.1),(4.99,39.05),(5.19,39.15),(5.20,39.05),(5.27,39.05),(5.37,39.1),(5.48,39.25),(5.52,39.15),(5.10,39.6),(5.14,39.6),(5.33,39.75),(5.48,39.65),(5.53,39.6),(5.59,39.6),(5.82,39.75),(5.37,39.25),(6.22,39.5),(6.31,39.6),(6.60,39.65),(6.25,39.9),
(5.72,40.05),(5.08,40.2),(5.22,40.2),(5.43,40.15),(5.88,40.25),(6.43,40.2),(4.96,40.2),(5.41,40.7),(5.01,40.75),(5.03,40.75),(6.05,40.95),(6.14,40.75),(6.16,40.75),(6.37,40.85),(6.93,40.5),(6.71,41.0),
(5.16,41.1),(5.29,41.4),(5.35,41.55),(5.58,41.3),(5.66,41.3),(5.76,41.1),(5.78,41.4),(5.80,41.3),(5.85,41.2),(6.11,41.55),(6.50,41.3),(5.23,41.9),(5.25,41.9),(5.39,41.9),(5.47,41.85),(5.61,41.9),(5.70,41.9),(5.73,41.9),(5.89,41.9),(5.93,41.85),(5.97,41.85),(6.05,41.85),(6.16,41.9),(6.20,41.9),(6.33,41.9),(6.39,41.9),(6.48,42.2),(6.58,41.7),
(5.46,42.5),(5.56,42.7),(5.65,42.45),(5.88,42.35),(5.91,42.45),(5.99,42.7),(6.03,42.4),(6.07,42.25),(6.40,42.45),(6.48,42.45),(6.53,42.45),(6.33,42.7),(6.35,43.0),(6.29,43.05),(5.68,43.0),(5.67,43.45),(6.59,43.2),(6.69,43.3),(7.22,43.2),(5.95,43.6),(6.05,43.55),(6.14,43.55),(6.37,43.75),(6.51,43.7),(6.06,44.15),(6.10,44.15),(6.12,44.25),(6.18,44.05),(6.19,44.55),(6.52,44.15),(6.56,44.15),(6.41,44.1),(6.63,44.5),(7.25,44.4),(6.24,44.7),(6.27,44.7),(6.30,44.7),(6.32,44.7),(6.44,45.15),(6.45,45.0),(6.55,45.0),(6.70,45.3),(6.93,44.95),(6.60,45.65),(6.62,45.75),(7.22,45.85),(6.71,46.4),(6.98,46.65),(7.12,46.55),(7.40,46.4),
]
OUTLIERS = [(1.50,6.9),(6.99,49.4),(7.15,49.25),(7.26,49.3)]
OUTLIER_VALUE = -1.0

# water-depth colour, per quarter day
WATER_FROM = [0,.25,.5,.75,1,1.25,1.5,1.75,2,2.25,2.5,2.75,3,3.25,3.5,3.75,4,4.25,4.5,4.75,5,5.25,5.5,5.75,6,6.25,6.5,7]
WATER_VALUE = [29,29,28.5,26.5,24,25,27,30,32,33.5,34.5,35.5,36.5,37,38,38.5,39.5,40.5,41.5,42.5,43.5,44.5,45,45.5,46.5,47.5,48.5,49.1]

TITLE = "m_water_depth - mote-holly (2025-12-05 to 2025-12-12)"
DAY_TICKS = [f"2025-12-{d:02d}T00:00:00" for d in range(5, 13)]
DEPTH_TICKS = [10, 20, 30, 40, 50]
CBAR_TICKS = [0, 10, 20, 30, 40]
INFO_LINES = ["Data Points: 2,404", "Range: -1.000 - 49.112", "Mean: 37.125", "Std Dev: 7.306"]
VMIN, VMAX = -1.0, 49.112

FONT = "DejaVu Sans"
W, H = 3285, 1342

pts = TOP_BAND + MID_BAND + LOWER_LEFT + OVERLAPS + MIDDLE_LOWER + RIGHT_LOWER
df = pd.DataFrame(pts, columns=["day", "depth"])
df["value"] = np.array(WATER_VALUE)[np.searchsorted(WATER_FROM, df["day"], side="right") - 1]
out = pd.DataFrame(OUTLIERS, columns=["day", "depth"])
out["value"] = OUTLIER_VALUE
df = pd.concat([df, out], ignore_index=True)
df["time"] = (pd.Timestamp("2025-12-05") + pd.to_timedelta(df["day"], unit="D")).dt.strftime("%Y-%m-%dT%H:%M:%S")
df = df[["time", "depth", "value"]]

x_enc = alt.X("time:T", title="Time",
    scale=alt.Scale(domain=["2025-12-04T19:35:00", "2025-12-12T18:14:00"]),
    axis=alt.Axis(values=DAY_TICKS, format="%Y-%m-%d", labelAngle=315, labelAlign="right", labelBaseline="top",
                  labelFontSize=40.5, labelFont=FONT, labelColor="black", labelPadding=8, labelOffset=-31,
                  labelOverlap=False, labelLimit=1000, labelBound=False, labelFlush=False,
                  tickColor="black", tickWidth=2.8, tickSize=14, domain=False,
                  grid=True, gridColor="#b0b0b0", gridOpacity=0.3, gridWidth=2.8, gridDash=[11, 5],
                  titleFont=FONT, titleFontSize=50, titleFontWeight="bold", titleColor="black",
                  titleY=267, titleBaseline="middle"))
y_enc = alt.Y("depth:Q", title="Depth (m)",
    scale=alt.Scale(domain=[2.8, 51.7], reverse=True, nice=False, zero=False),
    axis=alt.Axis(values=DEPTH_TICKS, labelFontSize=37.5, labelFont=FONT, labelColor="black", labelPadding=16,
                  tickColor="black", tickWidth=2.8, tickSize=14, domain=False,
                  grid=True, gridColor="#b0b0b0", gridOpacity=0.3, gridWidth=2.8, gridDash=[11, 5],
                  titleFont=FONT, titleFontSize=50, titleFontWeight="bold", titleColor="black",
                  titleX=-127, titleBaseline="middle"))

points = alt.Chart(df).mark_circle(size=335, opacity=0.8, stroke=None).encode(
    x=x_enc, y=y_enc,
    color=alt.Color("value:Q",
        scale=alt.Scale(scheme="viridis", domain=[VMIN, VMAX], nice=False, zero=False),
        legend=alt.Legend(orient="none", legendX=3364, legendY=134, title=None, type="gradient",
                          values=CBAR_TICKS, gradientLength=1072, gradientThickness=54,
                          gradientOpacity=0.8, gradientStrokeColor="black", gradientStrokeWidth=3,
                          labelFont=FONT, labelFontSize=45.8, labelColor="black", labelOffset=31)),
)

blank = alt.Data(values=[{}])
box = alt.Chart(blank).mark_rect(cornerRadius=10, fill="white", fillOpacity=0.9, stroke="#111111", strokeWidth=3.5).encode(
    x=alt.value(54), x2=alt.value(559), y=alt.value(14), y2=alt.value(227))
box_text = alt.Chart(blank).mark_text(text=INFO_LINES, align="left", baseline="middle", font=FONT, fontSize=41.67,
                                      lineHeight=48.4, color="black").encode(x=alt.value(66), y=alt.value(46))
note = alt.Chart(blank).mark_text(text="Data source: DuckDB ⚡", align="right", baseline="middle", font=FONT,
                                  fontSize=37.5, fontStyle="italic", color="#4d4d4d").encode(
    x=alt.value(3252), y=alt.value(1310))
cbar_ticks = alt.Chart(pd.DataFrame({"tick": CBAR_TICKS})).mark_rule(color="black", strokeWidth=2.8).encode(
    y=alt.Y("tick:Q", axis=None, scale=alt.Scale(domain=[VMAX, VMIN], range=[134, 1206], nice=False, zero=False)),
    x=alt.value(3418), x2=alt.value(3433))
cbar_title = alt.Chart(blank).mark_text(text="m_water_depth ()", angle=270, align="center", baseline="middle", font=FONT,
                                        fontSize=50, fontWeight="bold", color="black").encode(
    x=alt.value(3550), y=alt.value(673))

chart = alt.layer(points, box, box_text, note, cbar_ticks, cbar_title).resolve_scale(y="independent").properties(
    width=W, height=H,
    title=alt.TitleParams(TITLE, font=FONT, fontSize=58.3, fontWeight="bold", color="black", anchor="middle", offset=8),
    autosize=alt.AutoSizeParams(type="none"),
    padding={"left": 169, "top": 91, "right": 300, "bottom": 300},
    background="white",
).configure_view(stroke="black", strokeWidth=3)

chart.save("out.html", embed_options={"renderer": "svg", "actions": False})
